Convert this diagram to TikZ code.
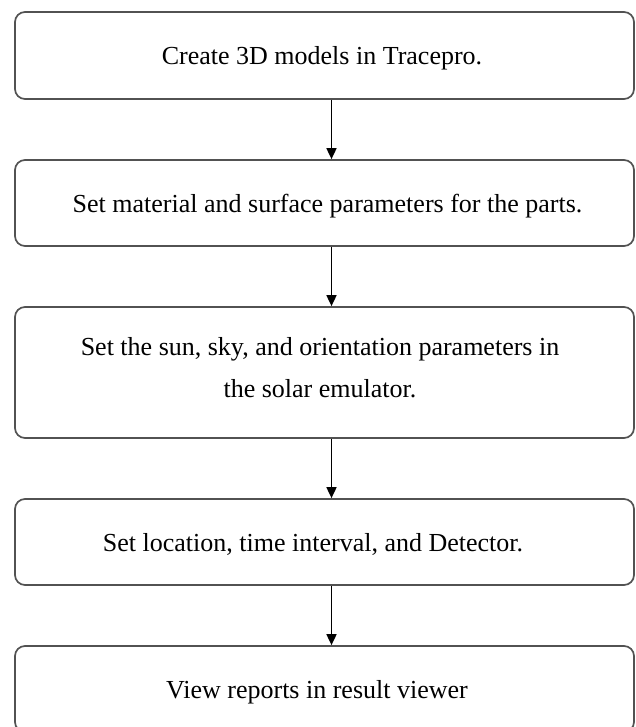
\documentclass[tikz,border=0pt]{standalone}
\usepackage{fontspec}
\setmainfont{Liberation Serif}
\usetikzlibrary{arrows.meta}

\tikzset{
    stepbox/.style={draw=black!68, line width=1.7pt, rounded corners=10pt, minimum width=619pt, inner sep=0pt},
    steptext/.style={font=\fontsize{26pt}{42pt}\selectfont, align=center, inner sep=0pt, anchor=base},
    flow/.style={line width=1.7pt, -{Triangle[length=11pt,width=10pt]}}
}

\begin{document}
\begin{tikzpicture}[x=1pt, y=-1pt]
    \useasboundingbox (0,0) rectangle (635,727);
    \clip (0,0) rectangle (635,727);

    % Boxes
    \node[stepbox, minimum height=87pt]  (b1) at (324.5, 55.5) {};
    \node[stepbox, minimum height=86pt]  (b2) at (324.5, 203) {};
    \node[stepbox, minimum height=131pt] (b3) at (324.5, 372.5) {};
    \node[stepbox, minimum height=86pt]  (b4) at (324.5, 542) {};
    \node[stepbox, minimum height=86pt]  (b5) at (324.5, 689) {};

    % Texts (placed on their baselines)
    \node[steptext] (t1) at ([xshift=-2.5pt, yshift=-9.5pt]b1.center) {Create 3D models in Tracepro.};
    \node[steptext] (t2) at ([xshift=3pt, yshift=-9.5pt]b2.center) {Set material and surface parameters for the parts.};
    \node[steptext] (t3) at ([xshift=-4.5pt, yshift=-25pt]b3.center) {Set the sun, sky, and orientation parameters in\\the solar emulator.};
    \node[steptext] (t4) at ([xshift=-11.5pt, yshift=-9.5pt]b4.center) {Set location, time interval, and Detector.};
    \node[steptext] (t5) at ([xshift=-7.5pt, yshift=-9.5pt]b5.center) {View reports in result viewer};

    % Arrows
    \foreach \a/\b in {b1/b2, b2/b3, b3/b4, b4/b5}
        \draw[flow] ([xshift=7pt]\a.south) -- ([xshift=7pt]\b.north);
\end{tikzpicture}
\end{document}
